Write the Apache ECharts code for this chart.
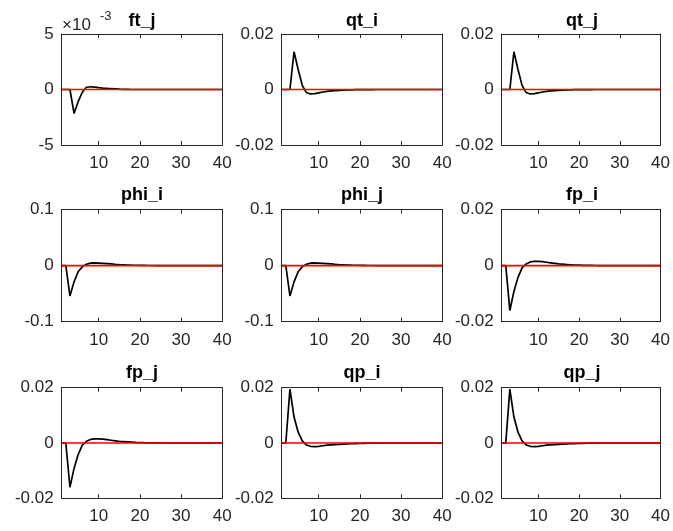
<!DOCTYPE html>
<html><head><meta charset="utf-8">
<script src="https://cdn.jsdelivr.net/npm/echarts@6/dist/echarts.min.js"></script>
<style>html,body{margin:0;padding:0;background:#fff}#c{width:673px;height:531px}</style>
</head><body><div id="c"></div>
<script>
const periods = [1,2,3,4,5,6,7,8,9,10,11,12,13,14,15,16,17,18,19,20,21,22,23,24,25,26,27,28,29,30,31,32,33,34,35,36,37,38,39,40];
const panelTitles = ['ft_j','qt_i','qt_j','phi_i','phi_j','fp_i','fp_j','qp_i','qp_j'];
const ft_j  = [0,0,0,-0.00215,-0.0011,-0.00025,0.0002,0.00025,0.00022,0.00017,0.00013,0.0001,0.00007,0.00005,0.00003,0.00002,0.00001,0,0,0,0,0,0,0,0,0,0,0,0,0,0,0,0,0,0,0,0,0,0,0];
const qt_i  = [0,0,0,0.0136,0.0072,0.0015,-0.0011,-0.0016,-0.0015,-0.0012,-0.0009,-0.0007,-0.0005,-0.0004,-0.0003,-0.0002,-0.00015,-0.0001,-0.00007,-0.00005,-0.00003,-0.00002,-0.00001,0,0,0,0,0,0,0,0,0,0,0,0,0,0,0,0,0];
const qt_j  = [0,0,0,0.0136,0.0072,0.0015,-0.0011,-0.0016,-0.0015,-0.0012,-0.0009,-0.0007,-0.0005,-0.0004,-0.0003,-0.0002,-0.00015,-0.0001,-0.00007,-0.00005,-0.00003,-0.00002,-0.00001,0,0,0,0,0,0,0,0,0,0,0,0,0,0,0,0,0];
const phi_i = [0,0,-0.054,-0.029,-0.011,-0.002,0.0025,0.0045,0.005,0.0045,0.004,0.0035,0.003,0.0024,0.0019,0.0015,0.0011,0.0008,0.0006,0.0004,0.0003,0.0002,0.00015,0.0001,0.00005,0,0,0,0,0,0,0,0,0,0,0,0,0,0,0];
const phi_j = [0,0,-0.054,-0.029,-0.011,-0.002,0.0025,0.0045,0.005,0.0045,0.004,0.0035,0.003,0.0024,0.0019,0.0015,0.0011,0.0008,0.0006,0.0004,0.0003,0.0002,0.00015,0.0001,0.00005,0,0,0,0,0,0,0,0,0,0,0,0,0,0,0];
const fp_i  = [0,0,-0.016,-0.0092,-0.0042,-0.0008,0.0006,0.0013,0.0015,0.0015,0.0014,0.0012,0.001,0.0008,0.0006,0.0005,0.0004,0.0003,0.0002,0.00015,0.0001,0.00007,0.00005,0.00003,0.00002,0,0,0,0,0,0,0,0,0,0,0,0,0,0,0];
const fp_j  = [0,0,-0.016,-0.0092,-0.0042,-0.0008,0.0006,0.0013,0.0015,0.0015,0.0014,0.0012,0.001,0.0008,0.0006,0.0005,0.0004,0.0003,0.0002,0.00015,0.0001,0.00007,0.00005,0.00003,0.00002,0,0,0,0,0,0,0,0,0,0,0,0,0,0,0];
const qp_i  = [0,0,0.0195,0.0094,0.0039,0.0008,-0.0007,-0.0012,-0.0013,-0.0012,-0.001,-0.0008,-0.0007,-0.0006,-0.0005,-0.0004,-0.0003,-0.00025,-0.0002,-0.00015,-0.0001,-0.00007,-0.00005,-0.00003,-0.00002,0,0,0,0,0,0,0,0,0,0,0,0,0,0,0];
const qp_j  = [0,0,0.0195,0.0094,0.0039,0.0008,-0.0007,-0.0012,-0.0013,-0.0012,-0.001,-0.0008,-0.0007,-0.0006,-0.0005,-0.0004,-0.0003,-0.00025,-0.0002,-0.00015,-0.0001,-0.00007,-0.00005,-0.00003,-0.00002,0,0,0,0,0,0,0,0,0,0,0,0,0,0,0];
const steadyState = [0,0,0,0,0,0,0,0,0,0,0,0,0,0,0,0,0,0,0,0,0,0,0,0,0,0,0,0,0,0,0,0,0,0,0,0,0,0,0,0];
const yLimits = [0.005,0.02,0.02,0.1,0.1,0.02,0.02,0.02,0.02];
const xTicks = [10,20,30,40];

const panelValues = [ft_j,qt_i,qt_j,phi_i,phi_j,fp_i,fp_j,qp_i,qp_j];

// layout
const colLeft = [61.7, 281.7, 501.7];
const colWidth = 160.5;
const rowTop = [34, 209.5, 387.7];
const rowHeight = [111, 112.2, 110.6];
const FONT = '"Liberation Sans", Helvetica, Arial, sans-serif';
const AX = '#262626';

const grid = [], xAxis = [], yAxis = [], series = [], graphic = [];
panelValues.forEach((vals, i) => {
  const r = Math.floor(i / 3), c = i % 3;
  grid.push({left: colLeft[c], top: rowTop[r], width: colWidth, height: rowHeight[r], containLabel: false});
  const lim = yLimits[i];
  const xa = {
    type: 'value', gridIndex: i, min: 1, max: 40,
    axisLine: {show: true, onZero: false, lineStyle: {color: AX, width: 1}},
    axisTick: {show: true, inside: true, length: 4, customValues: xTicks, lineStyle: {color: AX}},
    splitLine: {show: false}
  };
  xAxis.push(Object.assign({}, xa, {position: 'bottom',
    axisLabel: {show: true, customValues: xTicks, color: AX, fontSize: 17, fontFamily: FONT, margin: 10}}));
  xAxis.push(Object.assign({}, xa, {position: 'top', axisLabel: {show: false}}));
  const ya = {
    type: 'value', gridIndex: i, min: -lim, max: lim, interval: lim,
    axisLine: {show: true, onZero: false, lineStyle: {color: AX, width: 1}},
    axisTick: {show: true, inside: true, length: 4, lineStyle: {color: AX}},
    splitLine: {show: false}
  };
  yAxis.push(Object.assign({}, ya, {position: 'left',
    axisLabel: {show: true, color: AX, fontSize: 17, fontFamily: FONT, margin: 8, showMinLabel: true, showMaxLabel: true,
      formatter: i === 0 ? (v => String(Math.round(v * 1000))) : (v => (Math.abs(v) < 1e-12 ? '0' : String(+v.toFixed(4))))}}));
  yAxis.push(Object.assign({}, ya, {position: 'right', axisLabel: {show: false}}));
  series.push({
    type: 'line', xAxisIndex: 2 * i, yAxisIndex: 2 * i,
    data: periods.map((p, k) => [p, vals[k]]),
    showSymbol: false, symbol: 'none', lineStyle: {color: '#000', width: 1.7}, z: 2
  });
  series.push({
    type: 'line', xAxisIndex: 2 * i, yAxisIndex: 2 * i,
    data: periods.map((p, k) => [p, steadyState[k]]),
    showSymbol: false, symbol: 'none', lineStyle: {color: '#ff0000', width: 1.7}, z: 3
  });
  const titleMid = [21, 195, 373][r];
  graphic.push({type: 'text', x: colLeft[c] + colWidth / 2, y: titleMid, silent: true,
    style: {text: panelTitles[i], align: 'center', verticalAlign: 'middle', font: 'bold 18px ' + FONT, fill: '#000'}});
});
graphic.push({type: 'text', x: 62, y: 25, silent: true,
  style: {text: '×10', align: 'left', verticalAlign: 'middle', font: '17px ' + FONT, fill: AX}});
graphic.push({type: 'text', x: 100, y: 16, silent: true,
  style: {text: '-3', align: 'left', verticalAlign: 'middle', font: '13px ' + FONT, fill: AX}});

const chart = echarts.init(document.getElementById('c'), null, {renderer: 'canvas'});
chart.setOption({animation: false, backgroundColor: '#fff', grid, xAxis, yAxis, series, graphic});
</script></body></html>
